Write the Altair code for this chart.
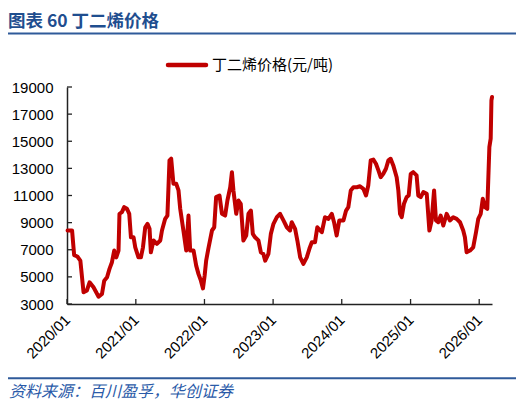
import altair as alt
import pandas as pd

dates = ["2020-01-04","2020-01-28","2020-02-08","2020-02-25","2020-03-12","2020-03-29","2020-04-16","2020-04-30",
"2020-05-21","2020-06-17","2020-07-05","2020-07-17","2020-08-01","2020-08-14","2020-08-27","2020-09-08","2020-09-19",
"2020-10-01","2020-10-06","2020-10-19","2020-10-31","2020-11-15","2020-11-27","2020-12-06","2020-12-20","2020-12-29",
"2021-01-15","2021-01-28","2021-02-08","2021-02-20","2021-03-04","2021-03-15","2021-03-22","2021-04-05","2021-04-23",
"2021-05-11","2021-05-20","2021-06-06","2021-06-18","2021-06-29","2021-07-08","2021-07-20","2021-08-04","2021-08-16",
"2021-08-25","2021-09-11","2021-09-26","2021-10-08","2021-10-17","2021-11-04","2021-11-18","2021-11-30","2021-12-13",
"2021-12-24","2022-01-02","2022-01-10","2022-01-22","2022-02-10","2022-02-22","2022-03-04","2022-03-22","2022-04-04",
"2022-04-21","2022-05-03","2022-05-18","2022-05-27","2022-06-04","2022-06-19","2022-07-01","2022-07-13","2022-07-27",
"2022-08-11","2022-08-23","2022-09-05","2022-09-15","2022-09-27","2022-10-15","2022-10-28","2022-11-10","2022-11-20",
"2022-12-07","2022-12-20","2023-01-03","2023-01-21","2023-02-07","2023-02-25","2023-03-15","2023-04-01","2023-04-10",
"2023-04-28","2023-05-10","2023-05-25","2023-06-11","2023-06-29","2023-07-13","2023-07-26","2023-08-12","2023-08-24",
"2023-09-17","2023-10-04","2023-10-22","2023-11-09","2023-11-21","2023-12-05","2023-12-19","2024-01-10","2024-01-24",
"2024-02-05","2024-02-18","2024-03-03","2024-03-21","2024-04-07","2024-04-25","2024-05-09","2024-05-21","2024-06-03",
"2024-06-17","2024-07-01","2024-07-14","2024-07-26","2024-08-09","2024-08-23","2024-09-05","2024-09-17","2024-10-01",
"2024-10-19","2024-10-28","2024-11-06","2024-11-15","2024-11-27","2024-12-11","2024-12-22","2025-01-02","2025-01-15",
"2025-02-02","2025-02-11","2025-02-24","2025-03-10","2025-03-28","2025-04-11","2025-04-23","2025-05-06","2025-05-16",
"2025-05-28","2025-06-10","2025-06-24","2025-07-12","2025-07-29","2025-08-16","2025-09-03","2025-09-21","2025-10-08",
"2025-10-17","2025-10-26","2025-11-13","2025-11-30","2025-12-15","2025-12-27","2026-01-09","2026-01-20","2026-02-01",
"2026-02-13","2026-02-24","2026-03-03","2026-03-07","2026-03-10"]

prices = [8420,8420,6600,6500,6200,3860,4000,4600,
4230,3540,3740,4720,4970,5590,6080,6940,6440,
6940,9650,9770,10140,10020,9650,7920,7920,7180,
6440,6440,7180,8660,8910,8540,6810,7680,7430,
7680,8420,9280,9520,13590,13710,11860,11860,11370,
10020,8420,6940,9520,6940,6940,5830,5220,4720,
4150,5100,6200,7100,8420,8660,10880,11000,9650,
9520,10630,11610,12720,11370,9650,10630,10390,7680,
8050,9650,9890,8170,7920,7680,6810,6690,6200,
6690,8170,8910,9400,9650,9160,8660,8420,9030,
8540,7680,6440,5960,6440,7070,7560,7560,8660,
8290,9400,9280,9650,9030,8050,9160,9160,9890,
10140,11370,11610,11610,11680,11490,11000,11740,13590,
13650,13340,12850,12350,12600,12970,13590,13710,13220,
12350,11370,9650,9400,10390,10880,11000,12600,12720,
12480,11000,10880,11250,11120,8420,9160,11370,9160,
9030,9520,8790,9650,9160,9400,9280,9030,8420,
7920,6810,6940,7180,8290,9280,9650,10760,10140,
10020,14570,15190,18020,18260]

y_ticks = [3000, 5000, 7000, 9000, 11000, 13000, 15000, 17000, 19000]
x_tick_years = [2020, 2021, 2022, 2023, 2024, 2025, 2026]

title_text = "图表 60 丁二烯价格"
legend_text = "丁二烯价格(元/吨)"
source_text = "资料来源：百川盈孚，华创证券"

W, H = 425, 217
RED = "#c00000"
BLUE = "#1f4e8f"
FONT_CJK = "Noto Sans CJK SC"
FONT_NUM = "Liberation Sans"

df = pd.DataFrame({"date": dates, "price": prices})
xticks_df = pd.DataFrame({"date": [f"{y}-01-01" for y in x_tick_years]})
yticks_df = pd.DataFrame({"price": y_ticks})
one = pd.DataFrame({"k": [0]})

xscale = alt.Scale(domain=[alt.DateTime(year=2020, month=1, date=1),
                           alt.DateTime(year=2026, month=3, date=10)])
yscale = alt.Scale(domain=[3000, 19000], nice=False, zero=False)

xaxis = alt.Axis(values=[alt.DateTime(year=y, month=1, date=1) for y in x_tick_years],
                 format="%Y/%m", labelAngle=315, labelAlign="right", labelBaseline="middle",
                 labelPadding=13, ticks=False, labelFont=FONT_NUM, labelFontSize=15,
                 labelColor="#000", domainColor="#222", domainWidth=1.5, grid=False,
                 labelOverlap=False, labelFlush=False)
yaxis = alt.Axis(values=y_ticks, format="d", ticks=False, labelPadding=14,
                 labelFont=FONT_NUM, labelFontSize=15, labelColor="#000",
                 domainColor="#222", domainWidth=1.5, grid=False)

line = alt.Chart(df).mark_line(color=RED, strokeWidth=4, strokeJoin="round", strokeCap="round").encode(
    x=alt.X("date:T", scale=xscale, title=None, axis=xaxis),
    y=alt.Y("price:Q", scale=yscale, title=None, axis=yaxis),
)

yt = alt.Chart(yticks_df).mark_rule(color="#222", strokeWidth=1.3).encode(
    y=alt.Y("price:Q", scale=yscale, title=None, axis=yaxis), x=alt.value(0), x2=alt.value(5))
xt = alt.Chart(xticks_df).mark_rule(color="#222", strokeWidth=1.3).encode(
    x=alt.X("date:T", scale=xscale, title=None, axis=xaxis), y=alt.value(H), y2=alt.value(H - 5))

title = alt.Chart(one).mark_text(text=title_text, font=FONT_CJK, fontSize=17.5, fontWeight="bold",
                                 color=BLUE, align="left", baseline="alphabetic").encode(
    x=alt.value(-59), y=alt.value(-60.5))
top_rule = alt.Chart(one).mark_rule(color="#2f5a9a", strokeWidth=2).encode(
    x=alt.value(-61), x2=alt.value(450), y=alt.value(-53.5))
leg_line = alt.Chart(one).mark_rule(color=RED, strokeWidth=4.5, strokeCap="round").encode(
    x=alt.value(101), x2=alt.value(139), y=alt.value(-22))
leg_text = alt.Chart(one).mark_text(text=legend_text, font=FONT_CJK, fontSize=15, color="#000",
                                    align="left", baseline="middle").encode(
    x=alt.value(145), y=alt.value(-22))
bot_rule = alt.Chart(one).mark_rule(color="#2f5a9a", strokeWidth=2).encode(
    x=alt.value(-61), x2=alt.value(450), y=alt.value(291.3))
src = alt.Chart(one).mark_text(text=source_text, font=FONT_CJK, fontSize=16, fontStyle="italic",
                               color="#2a5aa8", align="left", baseline="alphabetic").encode(
    x=alt.value(-58), y=alt.value(310))

chart = alt.layer(line, yt, xt, title, top_rule, leg_line, leg_text, bot_rule, src).properties(
    width=W, height=H,
    autosize=alt.AutoSizeParams(type="none"),
    padding={"left": 59, "top": 79, "right": 24, "bottom": 97},
    background="white",
).configure_view(stroke=None)

chart.save("out.html", embed_options={"renderer": "svg", "actions": False})
